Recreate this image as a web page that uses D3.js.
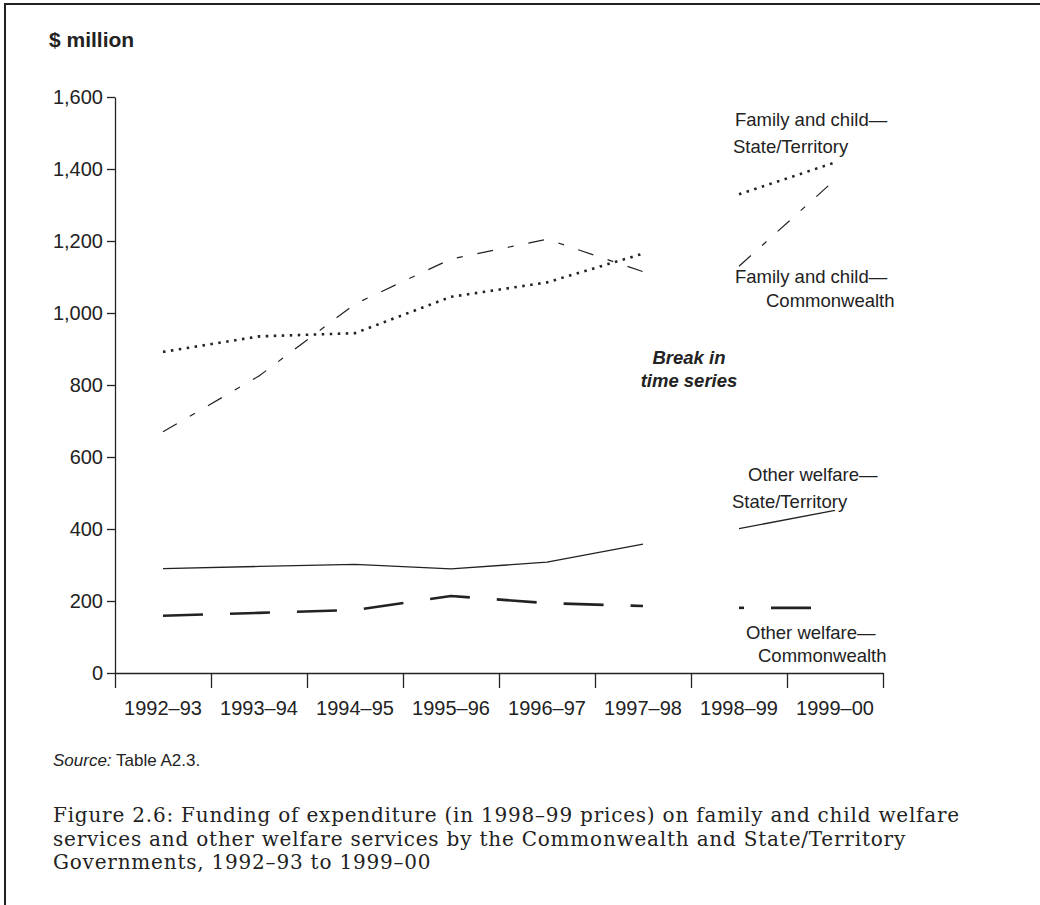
<!DOCTYPE html>
<html>
<head>
<meta charset="utf-8">
<script src="https://cdn.jsdelivr.net/npm/d3@7"></script>
<style>
  html, body { margin: 0; padding: 0; background: #fff; }
  svg { display: block; }
</style>
</head>
<body>
<svg id="chart" width="1040" height="905"></svg>
<script>
// ---- Data ----
const categories = ["1992–93", "1993–94", "1994–95", "1995–96", "1996–97", "1997–98", "1998–99", "1999–00"];
const breakAfter = 5; // break in time series after 1997–98
const familyChildState = [892, 935, 944, 1045, 1085, 1165, 1330, 1418];
const familyChildCwth  = [670, 825, 1025, 1150, 1205, 1115, 1130, 1370];
const otherWelfareState = [290, 296, 302, 289, 308, 358, 401, 452];
const otherWelfareCwth  = [159, 167, 175, 214, 194, 186, 181, 181];
const yTicks = [0, 200, 400, 600, 800, 1000, 1200, 1400, 1600];

const ink = "#222";
const sans = "'Liberation Sans', Arial, Helvetica, sans-serif";
const serif = "'DejaVu Serif', Georgia, serif";

const svg = d3.select("#chart");

// frame
svg.append("path").attr("d", "M5,905V4H1040").attr("fill", "none")
  .attr("stroke", ink).attr("stroke-width", 2);

const x = d3.scaleBand().domain(categories).range([115, 883]);
const xc = c => x(c) + x.bandwidth() / 2;
const xEdge = d3.scaleLinear().domain([0, categories.length]).range([115, 883]);
const y = d3.scaleLinear().domain([0, 1600]).range([673, 97]);

// y-axis
const yAxis = svg.append("g").attr("transform", "translate(115,0)")
  .call(d3.axisLeft(y).tickValues(yTicks).tickSize(8).tickSizeOuter(0).tickPadding(4)
    .tickFormat(d3.format(",")));
yAxis.select(".domain").attr("stroke", ink).attr("stroke-width", 1.3);
yAxis.selectAll(".tick line").attr("stroke", ink).attr("stroke-width", 1.3);
yAxis.selectAll("text").attr("font-family", sans).attr("font-size", 20).attr("fill", ink);

// x-axis ticks at band edges
const xAxisTicks = svg.append("g").attr("transform", "translate(0,673)")
  .call(d3.axisBottom(xEdge).tickValues(d3.range(categories.length + 1)).tickSize(15)
    .tickSizeOuter(0).tickFormat(""));
xAxisTicks.select(".domain").attr("stroke", ink).attr("stroke-width", 1.3);
xAxisTicks.selectAll(".tick line").attr("stroke", ink).attr("stroke-width", 1.3);

// x-axis labels at band centres
const xAxisLabels = svg.append("g").attr("transform", "translate(0,673)")
  .call(d3.axisBottom(x).tickSize(0).tickPadding(28));
xAxisLabels.select(".domain").remove();
xAxisLabels.selectAll("text").attr("font-family", sans).attr("font-size", 20).attr("fill", ink);

// y-axis title
svg.append("text").attr("x", 49).attr("y", 47).attr("font-family", sans)
  .attr("font-size", 21).attr("font-weight", "bold").attr("fill", ink).text("$ million");

// lines
const line = d3.line().x(d => xc(d.c)).y(d => y(d.v));
function segments(values) {
  const pts = values.map((v, i) => ({ c: categories[i], v }));
  return [pts.slice(0, breakAfter + 1), pts.slice(breakAfter + 1)];
}
const seriesStyles = [
  { values: familyChildState, width: 2.6, dash: "2.5,5.5", offsets: [0, 0] },
  { values: familyChildCwth, width: 1.2, dash: "16,15,6,15", offsets: [0, 0] },
  { values: otherWelfareState, width: 1.3, dash: null, offsets: [0, 0] },
  { values: otherWelfareCwth, width: 2.6, dash: "40,27", offsets: [0, 35] }
];
seriesStyles.forEach(s => {
  segments(s.values).forEach((seg, k) => {
    const p = svg.append("path").attr("d", line(seg)).attr("fill", "none")
      .attr("stroke", ink).attr("stroke-width", s.width).attr("stroke-linejoin", "round");
    if (s.dash) p.attr("stroke-dasharray", s.dash).attr("stroke-dashoffset", s.offsets[k]);
  });
});

// series labels
const labels = [
  { t: "Family and child—", x: 735, y: 126 },
  { t: "State/Territory", x: 733, y: 153 },
  { t: "Family and child—", x: 735, y: 283 },
  { t: "Commonwealth", x: 766, y: 307 },
  { t: "Other welfare—", x: 748, y: 481 },
  { t: "State/Territory", x: 732, y: 508 },
  { t: "Other welfare—", x: 746, y: 639 },
  { t: "Commonwealth", x: 758, y: 662 }
];
svg.append("g").selectAll("text").data(labels).join("text")
  .attr("x", d => d.x).attr("y", d => d.y).attr("font-family", sans)
  .attr("font-size", 18.5).attr("fill", ink).text(d => d.t);

// break annotation
[["Break in", 364], ["time series", 387]].forEach(([t, yy]) => {
  svg.append("text").attr("x", 689).attr("y", yy).attr("text-anchor", "middle")
    .attr("font-family", sans).attr("font-size", 18.5).attr("font-weight", "bold")
    .attr("font-style", "italic").attr("fill", ink).text(t);
});

// source
const src = svg.append("text").attr("x", 53).attr("y", 766).attr("font-family", sans)
  .attr("font-size", 17).attr("fill", ink);
src.append("tspan").attr("font-style", "italic").text("Source:");
src.append("tspan").text(" Table A2.3.");

// caption
const captionLines = [
  "Figure 2.6: Funding of expenditure (in 1998–99 prices) on family and child welfare",
  "services and other welfare services by the Commonwealth and State/Territory",
  "Governments, 1992–93 to 1999–00"
];
const cap = svg.append("g").selectAll("text").data(captionLines).join("text")
  .attr("x", 53).attr("y", (d, i) => 822 + i * 23.5)
  .attr("font-family", serif).attr("font-size", 20).attr("fill", ink).text(d => d);
// slight letter-spacing so the first line spans the reference's width
const w0 = cap.node().getComputedTextLength();
cap.attr("letter-spacing", Math.max(0, Math.min(0.9, (907 - w0) / captionLines[0].length)));
</script>
</body>
</html>
